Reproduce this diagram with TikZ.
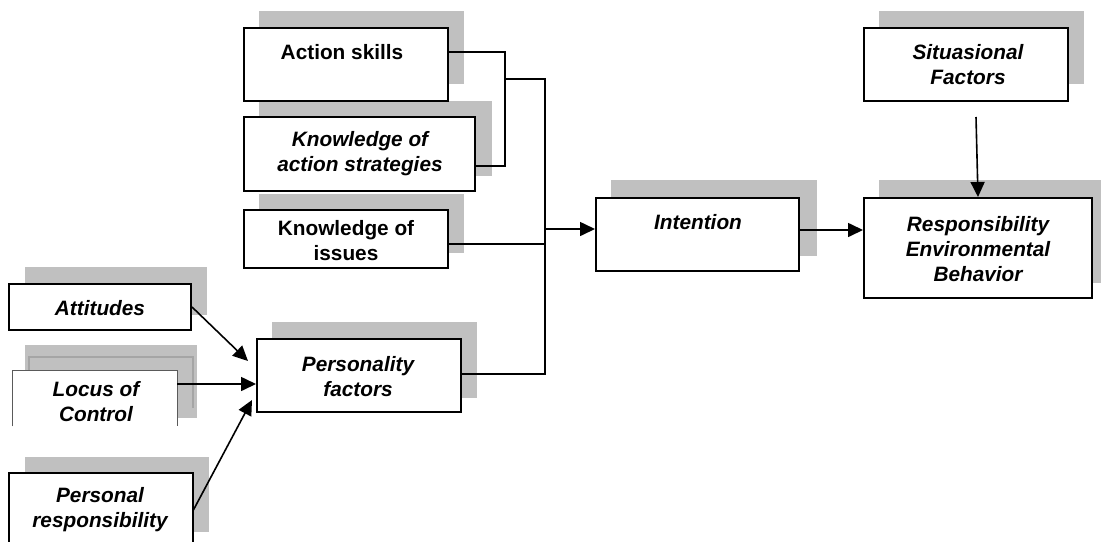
\documentclass[tikz,border=0pt]{standalone}
\usepackage{fontspec}
\setmainfont{Liberation Sans}
\usetikzlibrary{arrows.meta,fit}
\definecolor{shadowgray}{RGB}{192,192,192}
\definecolor{innergray}{RGB}{165,165,165}
\definecolor{locusgray}{RGB}{90,90,90}
\tikzset{
  shadowbox/.style={fill=shadowgray, draw=none},
  box/.style={draw=black, line width=1pt, fill=white, inner sep=0pt},
  openbox/.style={draw=none, fill=white, inner sep=0pt},
  txtit/.style={font=\fontsize{10.4}{12.5}\selectfont\bfseries\itshape, align=center, inner sep=0pt},
  txtup/.style={font=\fontsize{10.4}{12.5}\selectfont\bfseries, align=center, inner sep=0pt},
  conn/.style={draw=black, line width=0.8pt},
  arr/.style={conn, -{Triangle[length=7.5pt,width=7pt]}},
}
\begin{document}
\begin{tikzpicture}[x=0.5pt,y=-0.5pt]
\useasboundingbox (0,0) rectangle (1101,541);
\clip (0,0) rectangle (1101,541);
\fill[white] (0,0) rectangle (1101,541);

% shadows
\fill[shadowgray] (259,11) rectangle (464,84);     % action skills
\fill[shadowgray] (259,101) rectangle (492,176);   % knowledge of action strategies
\fill[shadowgray] (259,194) rectangle (464,253);   % knowledge of issues
\fill[shadowgray] (611,180) rectangle (817,256);   % intention
\fill[shadowgray] (879,11) rectangle (1084,84);    % situasional
\fill[shadowgray] (879,180) rectangle (1110,283);  % responsibility
\fill[shadowgray] (25,267) rectangle (207,315);    % attitudes
\fill[shadowgray] (25,345) rectangle (197,418);    % locus
\draw[innergray, line width=0.6pt] (29,408) -- (29,357) -- (193,357) -- (193,408);
\fill[shadowgray] (25,457) rectangle (209,532);    % personal responsibility
\fill[shadowgray] (272,322) rectangle (477,398);   % personality factors

% boxes
\node[box, fit={(244,28) (448,101)}] (as) {};
\node[box, fit={(244,117) (475,191)}] (kas) {};
\node[box, fit={(244,210) (448,268)}] (ki) {};
\node[box, fit={(596,198) (799,271)}] (int) {};
\node[box, fit={(864,28) (1068,101)}] (sit) {};
\node[box, fit={(864,198) (1092,298)}] (rb) {};
\node[box, fit={(9,284) (191,330)}] (att) {};
\node[openbox, fit={(13,371) (177,426)}] (loc) {};
\draw[locusgray, line width=0.7pt] (loc.south west) -- (loc.north west) -- (loc.north east) -- (loc.south east);
\node[openbox, fit={(9,473) (193,545)}] (pr) {};
\draw[black, line width=1pt] (pr.south west) -- (pr.north west) -- (pr.north east) -- (pr.south east);
\node[box, fit={(257,339) (461,412)}] (pf) {};

% texts
\node[txtup] (tas) at (342,52) {Action skills};
\node[txtit] (tkas) at (360,154) {Knowledge of\\action strategies};
\node[txtup] (tki) at (346,241) {Knowledge of\\issues};
\node[txtit] (tint) at (698,222) {Intention};
\node[txtit] (tsit) at (968,65) {Situasional\\Factors};
\node[txtit] (trb) at (978,249) {Responsibility\\Environmental\\Behavior};
\node[txtit] (tatt) at (100,308) {Attitudes};
\node[txtit] (tloc) at (96,402) {Locus of\\Control};
\node[txtit] (tpr) at (100,510) {Personal\\responsibility};
\node[txtit] (tpf) at (358,377) {Personality\\factors};

% junction coordinates
\coordinate (j1) at (505,52);
\coordinate (j2) at (505,166);
\coordinate (j3) at (505,79);
\coordinate (bt) at (545,79);
\coordinate (bb) at (545,374);
\coordinate (bi) at (545,244);
\coordinate (ba) at (545,229);
\coordinate (sitA) at (976,117);
\coordinate (locA) at (177,384);
\coordinate (pfA) at (248,361);
\coordinate (pfC) at (252,400);

% connectors
\draw[conn] (as.east |- j1) -- (j1) -- (j2) -- (kas.east |- j2);
\draw[conn] (j3) -- (bt) -- (bb) -- (pf.east |- bb);
\draw[conn] (ki.east |- bi) -- (bi);
\draw[arr] (ba) -- (int.west |- ba);
\draw[arr] (int.east |- 0,230) -- (rb.west |- 0,230);
\draw[arr] (sitA) -- (rb.north);
\draw[arr] (att.east) -- (pfA);
\draw[arr] (locA) -- (locA -| pf.west);
\draw[arr] (pr.east |- 0,510) -- (pfC);
\end{tikzpicture}
\end{document}
